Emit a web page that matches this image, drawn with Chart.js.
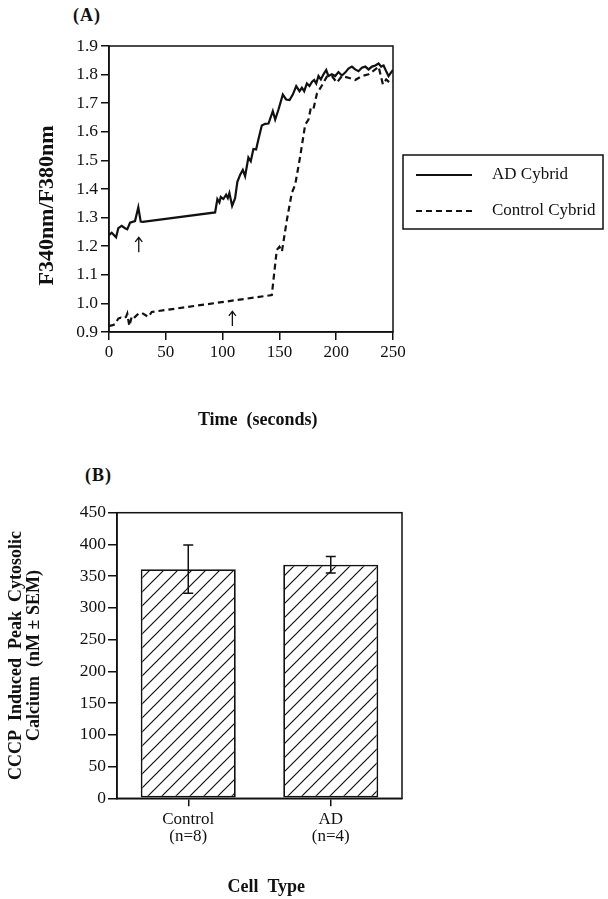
<!DOCTYPE html>
<html>
<head>
<meta charset="utf-8">
<script src="https://cdn.jsdelivr.net/npm/chart.js@4.4.1/dist/chart.umd.min.js"></script>
<style>
  html, body { margin: 0; padding: 0; background: #fff; }
  body { width: 608px; height: 899px; position: relative; overflow: hidden; font-family: "Liberation Serif", serif; }
  .panel { position: absolute; left: 0; width: 608px; }
  .tag { position: absolute; font-weight: bold; font-size: 18px; line-height: 18px; color: #111; letter-spacing: 1px; }
</style>
</head>
<body>
<div class="tag" style="left:73px; top:6px;">(A)</div>
<div class="panel" style="top:0; height:445px;"><canvas id="chartA"></canvas></div>
<div class="tag" style="left:85px; top:466px;">(B)</div>
<div class="panel" style="top:440px; height:459px;"><canvas id="chartB"></canvas></div>
<script>
// panel A - fluorescence ratio over time
const adTime = [0, 2.4, 6.2, 8.2, 11.2, 14.1, 16.1, 18.5, 22.9, 25.8, 27.9, 29.7, 93.4, 95.4, 97.2, 98.4, 100.7, 103.1, 104.6, 106,
  108.4, 111, 113, 115.5, 117.8, 119.8, 122.7, 124.8, 127.1, 129.5, 131.5, 134.5, 137.4, 140.4, 144.2, 146.3, 149.2, 153, 155.9, 158.9,
  161.8, 164.8, 167.7, 169.8, 171.8, 174.2, 176.5, 178.6, 180.6, 182.4, 184.4, 186.5, 188.8, 191.2, 193.2, 196.2, 199.1, 202, 205, 207.9,
  210.8, 213.8, 216.7, 219.6, 222.6, 225.6, 228.5, 231.5, 234.4, 237.3, 239.6, 241.7, 244, 246.1, 248.2, 250];
const adRatio = [1.239, 1.247, 1.231, 1.263, 1.271, 1.263, 1.259, 1.282, 1.288, 1.336, 1.286, 1.285, 1.318, 1.365, 1.353, 1.372, 1.365, 1.380, 1.368, 1.386,
  1.341, 1.368, 1.425, 1.450, 1.467, 1.445, 1.510, 1.497, 1.540, 1.538, 1.573, 1.622, 1.628, 1.629, 1.672, 1.643, 1.678, 1.730, 1.713, 1.711,
  1.730, 1.760, 1.742, 1.754, 1.742, 1.769, 1.760, 1.774, 1.781, 1.769, 1.795, 1.783, 1.801, 1.816, 1.795, 1.801, 1.795, 1.809, 1.797, 1.807,
  1.821, 1.828, 1.818, 1.812, 1.824, 1.828, 1.818, 1.828, 1.832, 1.839, 1.828, 1.832, 1.812, 1.795, 1.807, 1.816];
const ctrlTime = [0, 2.4, 5.3, 8.2, 10.3, 12.6, 15, 16.1, 17.9, 20, 21.4, 25.8, 28.8, 34.6, 37.6, 143.3, 147.7, 150, 152.2, 156.6,
  160.9, 163.9, 168.3, 172.7, 175.6, 177.7, 180, 183, 187.4, 191.8, 196.2, 200.6, 205, 210.8, 216.7, 222.6, 228.5, 234.4, 237.3, 241.1,
  244, 247, 250];
const ctrlRatio = [0.921, 0.923, 0.927, 0.947, 0.950, 0.947, 0.953, 0.964, 0.921, 0.953, 0.947, 0.964, 0.967, 0.953, 0.970, 1.029, 1.187, 1.198, 1.181, 1.292,
  1.386, 1.415, 1.514, 1.625, 1.643, 1.684, 1.680, 1.733, 1.762, 1.793, 1.795, 1.772, 1.795, 1.789, 1.781, 1.795, 1.801, 1.818, 1.828, 1.766,
  1.783, 1.772, 1.777];
// arrows marking when CCCP was added
const arrowTime = [26.2, 108.6];
const arrowTip = [1.231, 0.972];
const arrowBase = [1.179, 0.921];

// panel B - peak calcium
const cellTypes = [["Control", "(n=8)"], ["AD", "(n=4)"]];
const peakCalcium = [361, 368];
const semCalcium = [38, 13];

const ink = "#111";
const serif = "'Liberation Serif', 'DejaVu Serif', serif";

const frame = {
  id: "frame",
  afterDatasetsDraw(chart) {
    const { ctx, chartArea } = chart;
    ctx.save();
    ctx.strokeStyle = ink;
    ctx.lineWidth = 1.5;
    ctx.strokeRect(chartArea.left, chartArea.top, chartArea.width, chartArea.height);
    ctx.restore();
  },
};

// legend in a box to the right of the plot
const boxLegend = {
  id: "boxLegend",
  afterDraw(chart) {
    const { ctx, chartArea } = chart;
    const left = chartArea.right + 10, top = 155;
    ctx.save();
    ctx.strokeStyle = ink;
    ctx.lineWidth = 1.5;
    ctx.strokeRect(left, top, 200, 74);
    chart.data.datasets.forEach((ds, i) => {
      const cy = top + 20 + i * 36;
      ctx.setLineDash(ds.borderDash || []);
      ctx.lineWidth = 2;
      ctx.beginPath();
      ctx.moveTo(left + 13, cy);
      ctx.lineTo(left + 69, cy);
      ctx.stroke();
      ctx.setLineDash([]);
      ctx.fillStyle = ink;
      ctx.font = "17px " + serif;
      ctx.textBaseline = "middle";
      ctx.fillText(ds.label, left + 89, cy);
    });
    ctx.restore();
  },
};

const arrowMarks = {
  id: "arrowMarks",
  afterDatasetsDraw(chart) {
    const { ctx, scales } = chart;
    ctx.save();
    ctx.strokeStyle = ink;
    ctx.lineWidth = 1.3;
    arrowTime.forEach((t, i) => {
      const x = scales.x.getPixelForValue(t);
      const top = scales.y.getPixelForValue(arrowTip[i]);
      const bottom = scales.y.getPixelForValue(arrowBase[i]);
      ctx.beginPath();
      ctx.moveTo(x, bottom);
      ctx.lineTo(x, top);
      ctx.moveTo(x - 3.5, top + 4.5);
      ctx.lineTo(x, top);
      ctx.lineTo(x + 3.5, top + 4.5);
      ctx.stroke();
    });
    ctx.restore();
  },
};

const errorBars = {
  id: "errorBars",
  afterDatasetsDraw(chart) {
    const { ctx, scales } = chart;
    ctx.save();
    ctx.strokeStyle = ink;
    ctx.lineWidth = 1.5;
    chart.getDatasetMeta(0).data.forEach((bar, i) => {
      const hi = scales.y.getPixelForValue(peakCalcium[i] + semCalcium[i]);
      const lo = scales.y.getPixelForValue(peakCalcium[i] - semCalcium[i]);
      ctx.beginPath();
      ctx.moveTo(bar.x, hi);
      ctx.lineTo(bar.x, lo);
      ctx.moveTo(bar.x - 5, hi);
      ctx.lineTo(bar.x + 5, hi);
      ctx.moveTo(bar.x - 5, lo);
      ctx.lineTo(bar.x + 5, lo);
      ctx.stroke();
    });
    ctx.restore();
  },
};

const tickFont = { family: serif, size: 17 };
const axisGrid = { drawOnChartArea: false, tickLength: 8, color: ink, lineWidth: 1.5 };
const axisBorder = { color: ink, width: 1.5 };

const chartA = new Chart(document.getElementById("chartA"), {
  type: "line",
  data: {
    datasets: [
      {
        label: "AD Cybrid",
        data: adTime.map((t, i) => ({ x: t, y: adRatio[i] })),
        borderColor: ink,
        borderWidth: 2.2,
        pointRadius: 0,
        tension: 0,
      },
      {
        label: "Control Cybrid",
        data: ctrlTime.map((t, i) => ({ x: t, y: ctrlRatio[i] })),
        borderColor: ink,
        borderWidth: 2.2,
        borderDash: [6, 4],
        pointRadius: 0,
        tension: 0,
      },
    ],
  },
  options: {
    responsive: true,
    maintainAspectRatio: false,
    animation: false,
    layout: { padding: { left: 0, top: 46, right: 215, bottom: 0 } },
    plugins: { legend: { display: false }, tooltip: { enabled: false } },
    scales: {
      x: {
        type: "linear",
        min: 0,
        max: 250,
        ticks: { stepSize: 50, color: ink, font: tickFont, padding: 2, maxRotation: 0 },
        grid: axisGrid,
        border: axisBorder,
        title: {
          display: true,
          text: "   Time  (seconds)",
          color: ink,
          font: { family: serif, size: 18, weight: "bold" },
          padding: { top: 0, bottom: 14 },
        },
        afterFit: (scale) => { scale.height = 113; },
      },
      y: {
        min: 0.9,
        max: 1.9,
        ticks: { stepSize: 0.1, color: ink, font: { family: serif, size: 17.5 }, padding: 3, callback: (v) => v.toFixed(1) },
        grid: axisGrid,
        border: axisBorder,
        title: {
          display: true,
          text: "F340nm/F380nm      ",
          color: ink,
          font: { family: serif, size: 22, weight: "bold" },
          padding: { top: 34, bottom: 0 },
        },
        afterFit: (scale) => { scale.width = 109; },
      },
    },
  },
  plugins: [frame, boxLegend, arrowMarks],
});

// diagonal hatch fill for the bars
const tile = document.createElement("canvas");
tile.width = 14;
tile.height = 14;
const tg = tile.getContext("2d");
tg.fillStyle = "#fff";
tg.fillRect(0, 0, 14, 14);
tg.strokeStyle = ink;
tg.lineWidth = 1.2;
tg.beginPath();
tg.moveTo(-1, 15); tg.lineTo(15, -1);
tg.moveTo(-1, 1); tg.lineTo(1, -1);
tg.moveTo(13, 15); tg.lineTo(15, 13);
tg.stroke();
const hatch = document.getElementById("chartB").getContext("2d").createPattern(tile, "repeat");

const chartB = new Chart(document.getElementById("chartB"), {
  type: "bar",
  data: {
    labels: cellTypes,
    datasets: [
      {
        data: peakCalcium,
        backgroundColor: hatch,
        borderColor: ink,
        borderWidth: 1.8,
        borderSkipped: false,
        barPercentage: 0.667,
        categoryPercentage: 1,
      },
    ],
  },
  options: {
    responsive: true,
    maintainAspectRatio: false,
    animation: false,
    layout: { padding: { left: 0, top: 72.7, right: 206, bottom: 0 } },
    plugins: { legend: { display: false }, tooltip: { enabled: false } },
    scales: {
      x: {
        ticks: { color: ink, font: { family: serif, size: 17, lineHeight: 0.98 }, padding: 5, maxRotation: 0 },
        grid: { ...axisGrid, offset: false },
        border: axisBorder,
        title: {
          display: true,
          text: "   Cell  Type",
          color: ink,
          font: { family: serif, size: 18, weight: "bold" },
          padding: { top: 0, bottom: 1 },
        },
        afterFit: (scale) => { scale.height = 100.7; },
      },
      y: {
        min: 0,
        max: 450,
        ticks: { stepSize: 50, color: ink, font: { family: serif, size: 17.5 }, padding: 2 },
        grid: { ...axisGrid, tickLength: 9 },
        border: axisBorder,
        title: {
          display: true,
          text: ["CCCP  Induced  Peak  Cytosolic", "Calcium  (nM \u00b1 SEM)"],
          color: ink,
          font: { family: serif, size: 18, weight: "bold", lineHeight: 1 },
          padding: { top: 7, bottom: 0 },
        },
        afterFit: (scale) => { scale.width = 117; },
      },
    },
  },
  plugins: [frame, errorBars],
});
</script>
</body>
</html>
